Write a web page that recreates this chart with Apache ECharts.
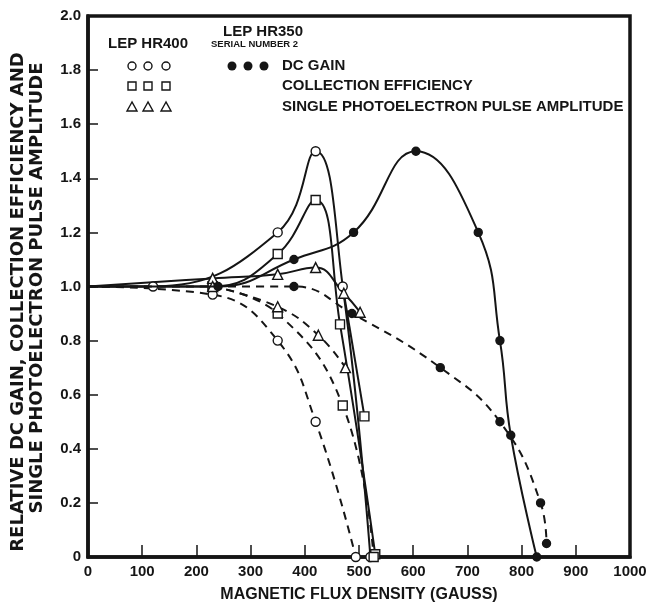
<!DOCTYPE html>
<html lang="en">
<head>
<meta charset="UTF-8">
<title>Relative DC gain vs magnetic flux density</title>
<style>
	html,body{margin:0;padding:0;background:#fff;}
	#chart{width:660px;height:607px;}
</style>
</head>
<body>
<div id="chart"></div>
<script src="https://cdn.jsdelivr.net/npm/echarts@6/dist/echarts.min.js"></script>
<script>
	// tick labels
	var xTicks = [0,100,200,300,400,500,600,700,800,900,1000];
	var yTicks = ['0','0.2','0.4','0.6','0.8','1.0','1.2','1.4','1.6','1.8','2.0'];

	// LEP HR400 (open markers), [gauss, relative value]
	var hr400GainSolid = [[0,1],[120,1.0],[350,1.2],[420,1.5],[470,1.0],[521,0]];
	var hr400GainDash = [[0,1],[230,0.97],[350,0.8],[420,0.5],[494,0]];
	var hr400CollSolid = [[0,1],[230,1.0],[350,1.12],[420,1.32],[465,0.86],[530,0.01]];
	var hr400CollBranch = [[472,0.975],[510,0.52]];
	var hr400CollDash = [[230,1.0],[350,0.9],[470,0.56],[527,0]];
	var hr400PulseSolid = [[0,1],[230,1.03],[350,1.045],[420,1.07],[472,0.975],[502,0.905]];
	var hr400PulseDash = [[230,1.0],[350,0.925],[425,0.82],[475,0.7]];
	// LEP HR350 serial number 2 (filled circles)
	var hr350GainSolid = [[0,1],[240,1.0],[380,1.1],[490,1.2],[605,1.5],[720,1.2],[760,0.8],[780,0.45],[828,0]];
	var hr350GainDash = [[0,1],[380,1.0],[487,0.9],[650,0.7],[760,0.5],[835,0.2],[846,0.05]];

	var font = '"Liberation Sans", Arial, sans-serif';
	var ink = '#151515';

	// start points (on the axis, or hidden under another marker) get no symbol
	function pts(arr, hideFirst){
		return arr.map(function(p, i){
			if(p[0] === 0 || (hideFirst && i === 0)) return {value:p, symbol:'none'};
			return p;
		});
	}
	function line(data, symbol, size, dashed, fill, hideFirst){
		return {
			type:'line',
			data:pts(data, hideFirst),
			symbol:symbol,
			symbolSize:size,
			smooth:0.45,
			lineStyle:{color:ink, width:2, type:dashed ? [8,6] : 'solid'},
			itemStyle:{color:fill, borderColor:ink, borderWidth:1.4},
			z: fill === '#fff' ? 3 : 4
		};
	}

	var legendText = {fontFamily:font, fontWeight:'bold', fill:ink};
	var graphics = [
		{type:'text', left:108, top:36, style:Object.assign({text:'LEP HR400', fontSize:15}, legendText)},
		{type:'text', left:223, top:24, style:Object.assign({text:'LEP HR350', fontSize:15}, legendText)},
		{type:'text', left:211, top:39, style:Object.assign({text:'SERIAL NUMBER 2', fontSize:9.5}, legendText)},
		{type:'text', left:282, top:58, style:Object.assign({text:'DC GAIN', fontSize:15}, legendText)},
		{type:'text', left:282, top:78, style:Object.assign({text:'COLLECTION EFFICIENCY', fontSize:15}, legendText)},
		{type:'text', left:282, top:99, style:Object.assign({text:'SINGLE PHOTOELECTRON PULSE AMPLITUDE', fontSize:15}, legendText)}
	];
	[132,148,166].forEach(function(cx){
		graphics.push({type:'circle', shape:{cx:cx, cy:66, r:4}, style:{fill:'#fff', stroke:ink, lineWidth:1.4}});
		graphics.push({type:'rect', shape:{x:cx-4, y:82, width:8, height:8}, style:{fill:'#fff', stroke:ink, lineWidth:1.4}});
		graphics.push({type:'polygon', shape:{points:[[cx,102],[cx-5,111],[cx+5,111]]}, style:{fill:'#fff', stroke:ink, lineWidth:1.4}});
	});
	[232,248,264].forEach(function(cx){
		graphics.push({type:'circle', shape:{cx:cx, cy:66, r:4.5}, style:{fill:ink}});
	});
	graphics.push({type:'text', x:18, y:302, rotation:Math.PI/2,
		style:{text:'RELATIVE DC GAIN, COLLECTION EFFICIENCY AND', fontFamily:'"DejaVu Sans", sans-serif', fontWeight:'bold', fontSize:18, fill:ink, align:'center', verticalAlign:'middle'}});
	graphics.push({type:'text', x:37, y:288, rotation:Math.PI/2,
		style:{text:'SINGLE PHOTOELECTRON PULSE AMPLITUDE', fontFamily:'"DejaVu Sans", sans-serif', fontWeight:'bold', fontSize:18, fill:ink, align:'center', verticalAlign:'middle'}});
	graphics.push({type:'text', x:359, y:595,
		style:{text:'MAGNETIC FLUX DENSITY (GAUSS)', fontFamily:font, fontWeight:'bold', fontSize:16, fill:ink, align:'center', verticalAlign:'middle'}});

	var option = {
		animation:false,
		backgroundColor:'#fff',
		grid:{left:88, right:30, top:16, bottom:50, show:true, borderColor:ink, borderWidth:3.5},
		xAxis:{
			type:'value', min:0, max:1000, interval:100,
			axisLine:{lineStyle:{color:ink, width:3.5}},
			axisTick:{inside:true, length:12, lineStyle:{color:ink, width:1.5}},
			splitLine:{show:false},
			axisLabel:{margin:7, color:ink, fontFamily:font, fontWeight:'bold', fontSize:15,
				formatter:function(v){ return xTicks.indexOf(v) >= 0 ? String(v) : ''; }}
		},
		yAxis:{
			type:'value', min:0, max:2, interval:0.2,
			axisLine:{lineStyle:{color:ink, width:3.5}},
			axisTick:{inside:true, length:10, lineStyle:{color:ink, width:1.5}},
			splitLine:{show:false},
			axisLabel:{margin:7, color:ink, fontFamily:font, fontWeight:'bold', fontSize:15,
				formatter:function(v){ return yTicks[Math.round(v*5)]; }}
		},
		graphic:graphics,
		series:[
			line(hr400GainSolid, 'circle', 9, false, '#fff'),
			line(hr400GainDash, 'circle', 9, true, '#fff'),
			line(hr400CollSolid, 'rect', 9, false, '#fff'),
			line(hr400CollBranch, 'rect', 9, false, '#fff', true),
			line(hr400CollDash, 'rect', 9, true, '#fff'),
			line(hr400PulseSolid, 'triangle', 10, false, '#fff'),
			line(hr400PulseDash, 'triangle', 10, true, '#fff'),
			line(hr350GainSolid, 'circle', 8, false, ink),
			line(hr350GainDash, 'circle', 8, true, ink)
		]
	};
	var myChart = echarts.init(document.getElementById('chart'));
	myChart.setOption(option);
</script>
</body>
</html>
